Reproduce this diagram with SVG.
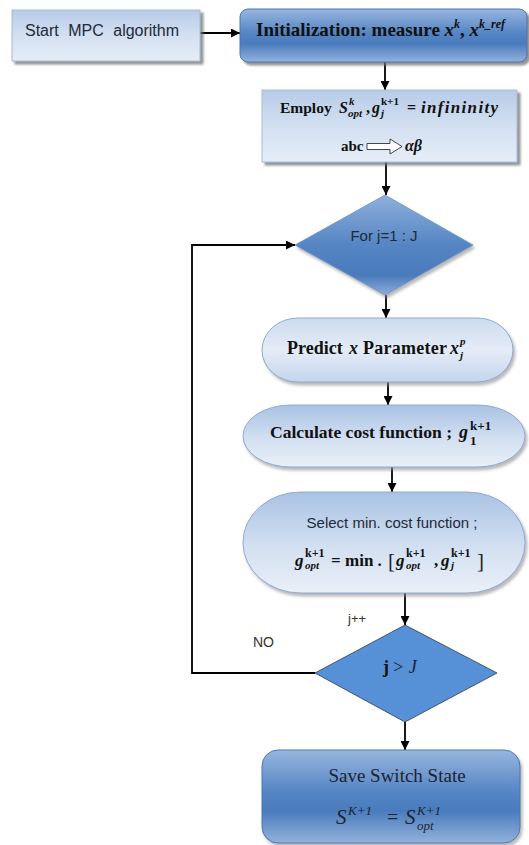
<svg xmlns="http://www.w3.org/2000/svg" width="529" height="845" viewBox="0 0 529 845">
<style>
.sb{font-family:"Liberation Serif",serif;font-weight:bold;fill:#111}
.sbi{font-family:"Liberation Serif",serif;font-weight:bold;font-style:italic;fill:#111}
.sr{font-family:"Liberation Serif",serif;fill:#1b2430}
.si{font-family:"Liberation Serif",serif;font-style:italic;fill:#1b2430}
.ss{font-family:"Liberation Sans",sans-serif;fill:#1e2a36}
.lbl{font-family:"Liberation Sans",sans-serif;fill:#3b3326}
.conn{stroke:#000;stroke-width:1.8;fill:none}
</style>
<defs>
<linearGradient id="light" x1="0" y1="0" x2="0" y2="1">
<stop offset="0" stop-color="#b7cbe8"/><stop offset="0.5" stop-color="#d3e0f1"/><stop offset="1" stop-color="#e6edf7"/>
</linearGradient>
<linearGradient id="pill" x1="0" y1="0" x2="0" y2="1">
<stop offset="0" stop-color="#a9c2e4"/><stop offset="0.55" stop-color="#d3e0f1"/><stop offset="1" stop-color="#e9f0f8"/>
</linearGradient>
<linearGradient id="pill2" x1="0" y1="0" x2="0" y2="1">
<stop offset="0" stop-color="#cddbef"/><stop offset="0.5" stop-color="#e4ecf7"/><stop offset="1" stop-color="#c4d5ec"/>
</linearGradient>
<linearGradient id="dark" x1="0" y1="0" x2="0" y2="1">
<stop offset="0" stop-color="#98b6df"/><stop offset="0.45" stop-color="#5585c4"/><stop offset="0.65" stop-color="#4a7bbd"/><stop offset="1" stop-color="#93b2dc"/>
</linearGradient>
<linearGradient id="dia" x1="0" y1="0" x2="0" y2="1">
<stop offset="0" stop-color="#8eafdb"/><stop offset="0.5" stop-color="#5585c4"/><stop offset="0.8" stop-color="#4a7aba"/><stop offset="1" stop-color="#8cadda"/>
</linearGradient>
<filter id="sh" x="-10%" y="-10%" width="125%" height="140%">
<feDropShadow dx="3" dy="3" stdDeviation="1" flood-color="#6e6e6e" flood-opacity="0.75"/>
</filter>
<filter id="sh2" x="-10%" y="-10%" width="125%" height="140%">
<feDropShadow dx="2" dy="3" stdDeviation="1.5" flood-color="#8a8a8a" flood-opacity="0.6"/>
</filter>
<marker id="arr" viewBox="0 0 10 10" refX="10" refY="5" markerWidth="9" markerHeight="9" markerUnits="userSpaceOnUse" orient="auto">
<path d="M0,0 L10,5 L0,10 z" fill="#000"/>
</marker>
</defs>

<g id="connectors">
<path class="conn" d="M200,33 H240" marker-end="url(#arr)"/>
<path class="conn" d="M385,62 V90" marker-end="url(#arr)"/>
<path class="conn" d="M386,162 V195" marker-end="url(#arr)"/>
<path class="conn" d="M386,295 V318" marker-end="url(#arr)"/>
<path class="conn" d="M388,382 V405" marker-end="url(#arr)"/>
<path class="conn" d="M392,467 V492" marker-end="url(#arr)"/>
<path class="conn" d="M405,593 V625" marker-end="url(#arr)"/>
<path class="conn" d="M405,722 V750" marker-end="url(#arr)"/>
<path class="conn" d="M315,673 H192 V245 H295" stroke-width="2.2" marker-end="url(#arr)"/>
<text class="lbl" x="348" y="623" font-size="13">j++</text>
<text class="lbl" x="253" y="647" font-size="14">NO</text>
</g>

<g id="start">
<rect x="12" y="10" width="188" height="51" fill="url(#light)" stroke="#a3bbdc" stroke-width="1" filter="url(#sh)"/>
<text class="ss" x="25" y="36" font-size="16" word-spacing="5">Start MPC algorithm</text>
</g>

<g id="init">
<rect x="240" y="9" width="287" height="53" rx="8" fill="url(#dark)" stroke="#4a77b4" stroke-width="1" filter="url(#sh)"/>
<text class="sb" x="256" y="36" font-size="19">Initialization: measure <tspan class="sbi">x</tspan><tspan class="sbi" font-size="12" dy="-8">k</tspan><tspan dy="8">, </tspan><tspan class="sbi">x</tspan><tspan class="sbi" font-size="12" dy="-8">k_ref</tspan></text>
</g>

<g id="employ">
<rect x="262" y="90" width="255" height="72" fill="url(#light)" stroke="#a3bbdc" stroke-width="1" filter="url(#sh)"/>
<text class="sb" x="280" y="113" font-size="15.5">Employ</text>
<text class="sbi" x="339" y="113" font-size="16">S</text>
<text class="sbi" x="349" y="105" font-size="11">k</text>
<text class="sbi" x="348" y="117" font-size="11">opt</text>
<text class="sb" x="366" y="113" font-size="16">,</text>
<text class="sbi" x="372" y="113" font-size="16">g</text>
<text class="sb" x="381" y="105" font-size="11">k+1</text>
<text class="sbi" x="381" y="117" font-size="11">j</text>
<text class="sb" x="407" y="113" font-size="16">=</text>
<text class="sbi" x="421" y="113" font-size="17" textLength="77" lengthAdjust="spacing">infininity</text>
<text class="sb" x="341" y="151" font-size="15">abc</text>
<path d="M367,143.5 H390 V139 L402,146.5 L390,154 V149.5 H367 Z" fill="#fff" stroke="#2b3340" stroke-width="0.9"/>
<text class="sbi" x="405" y="151" font-size="16">αβ</text>
</g>

<g id="forloop">
<polygon points="385,195 473,245 385,295 295,245" fill="url(#dia)" stroke="#6d93c8" stroke-width="0.8" filter="url(#sh2)"/>
<text class="ss" x="384" y="241" font-size="15" text-anchor="middle">For j=1 : J</text>
</g>

<g id="predict">
<rect x="262" y="318" width="251" height="64" rx="36" ry="32" fill="url(#pill2)" stroke="#8faad2" stroke-width="1" filter="url(#sh2)"/>
<text class="sb" x="287" y="354" font-size="18">Predict</text>
<text class="sbi" x="349" y="354" font-size="18">x</text>
<text class="sb" x="363" y="354" font-size="18" textLength="84" lengthAdjust="spacing">Parameter</text>
<text class="sbi" x="450" y="354" font-size="18">x</text>
<text class="sbi" x="460" y="345" font-size="11">p</text>
<text class="sbi" x="460" y="359" font-size="11">j</text>
</g>

<g id="calc">
<rect x="243" y="405" width="282" height="62" rx="48" ry="31" fill="url(#pill)" stroke="#8faad2" stroke-width="1" filter="url(#sh2)"/>
<text class="sb" x="270" y="438" font-size="17" textLength="182" lengthAdjust="spacingAndGlyphs">Calculate cost function ;</text>
<text class="sbi" x="459" y="438" font-size="18">g</text>
<text class="sb" x="470" y="430" font-size="13">k+1</text>
<text class="sb" x="470" y="445" font-size="13">1</text>
</g>

<g id="select">
<rect x="243" y="492" width="282" height="101" rx="58" ry="50" fill="url(#pill)" stroke="#8faad2" stroke-width="1" filter="url(#sh2)"/>
<text class="ss" x="392" y="528" font-size="15" text-anchor="middle">Select min. cost function ;</text>
<text class="sbi" x="295" y="566" font-size="17">g</text>
<text class="sb" x="305" y="557" font-size="12">k+1</text>
<text class="sbi" x="305" y="569" font-size="11">opt</text>
<text class="sb" x="331" y="566" font-size="17">=</text>
<text class="sb" x="345" y="566" font-size="17">min .</text>
<text class="sr" x="388" y="568" font-size="21">[</text>
<text class="sbi" x="396" y="566" font-size="17">g</text>
<text class="sb" x="406" y="557" font-size="12">k+1</text>
<text class="sbi" x="406" y="569" font-size="11">opt</text>
<text class="sb" x="434" y="566" font-size="17">,</text>
<text class="sbi" x="441" y="566" font-size="17">g</text>
<text class="sb" x="451" y="557" font-size="12">k+1</text>
<text class="sbi" x="451" y="569" font-size="11">j</text>
<text class="sr" x="477" y="568" font-size="21">]</text>
</g>

<g id="check">
<polygon points="405,625 497,673 405,722 315,673" fill="#5690d6" stroke="#3c4a5c" stroke-width="0.9"/>
<text class="sb" x="383" y="673" font-size="18">j</text>
<text class="si" x="392" y="673" font-size="18">&gt; J</text>
</g>

<g id="save">
<rect x="262" y="750" width="258" height="93" rx="16" fill="url(#dark)" stroke="#4a77b4" stroke-width="1" filter="url(#sh2)"/>
<text class="sr" x="397" y="782" font-size="19" text-anchor="middle">Save Switch State</text>
<text class="si" x="336" y="824" font-size="21">S</text>
<text class="si" x="348" y="815" font-size="13">K+1</text>
<text class="sr" x="387" y="824" font-size="20">=</text>
<text class="si" x="405" y="824" font-size="21">S</text>
<text class="si" x="417" y="815" font-size="13">K+1</text>
<text class="si" x="417" y="830" font-size="13">opt</text>
</g>
</svg>
